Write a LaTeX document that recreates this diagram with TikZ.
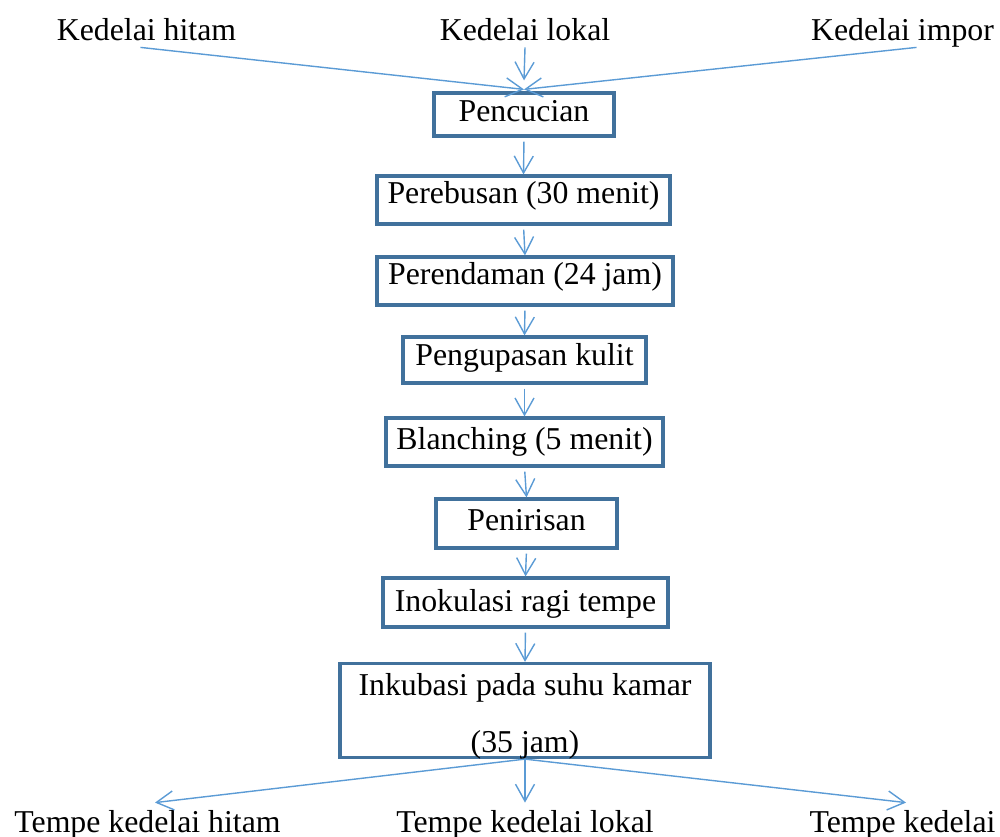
\documentclass[tikz,border=0pt]{standalone}
\usepackage{fontspec}
\setmainfont{Liberation Serif}
\usetikzlibrary{arrows.meta}
\definecolor{boxblue}{HTML}{41719C}
\definecolor{arrblue}{HTML}{5B9BD5}
\newcommand\fsz{\fontsize{15.9pt}{19pt}\selectfont}
\begin{document}
\begin{tikzpicture}[x=0.5pt,y=-0.5pt,
  stepbox/.style={draw=boxblue, line width=1.6pt, inner sep=0pt, font=\fsz,
    text height=8pt, text depth=3pt},
  lbl/.style={inner sep=0pt, anchor=base, font=\fsz, text height=11pt, text depth=3.5pt},
  arr/.style={draw=arrblue, line width=0.7pt, -{Straight Barb[length=8.5pt,width=9.5pt]}}]
\useasboundingbox (0,0) rectangle (1000,836);
% inputs
\node[lbl] (kh) at (146.5,40) {Kedelai hitam};
\node[lbl] (kl) at (525,40) {Kedelai lokal};
\node[lbl] (ki) at (902.5,40) {Kedelai impor};
% steps
\node[stepbox, text height=10pt, minimum width=90pt, minimum height=21.5pt] (pen) at (524,114.5) {Pencucian};
\node[stepbox, text height=6pt, minimum width=146.5pt, minimum height=24pt] (reb) at (523.5,200) {Perebusan (30 menit)};
\node[stepbox, text height=6pt, minimum width=148pt, minimum height=24pt] (ren) at (525,281) {Perendaman (24 jam)};
\node[stepbox, text height=8pt, minimum width=121.5pt, minimum height=23pt] (kup) at (524.5,360) {Pengupasan kulit};
\node[stepbox, text height=10pt, minimum width=138.5pt, minimum height=24pt] (bla) at (524.5,442) {Blanching (5 menit)};
\node[stepbox, text height=9.5pt, minimum width=90.5pt, minimum height=24.5pt] (nir) at (526.5,523.5) {Penirisan};
\node[stepbox, text height=12pt, minimum width=142.5pt, minimum height=24.5pt] (ino) at (525.5,602.5) {Inokulasi ragi tempe};
\node[stepbox, minimum width=185pt, minimum height=47pt] (ink) at (525,710.5) {};
\node[lbl] (inka) at (525,695) {Inkubasi pada suhu kamar};
\node[lbl] (inkb) at (525,752) {(35 jam)};
% outputs
\node[lbl] (th) at (147.5,832) {Tempe kedelai hitam};
\node[lbl] (tl) at (525,832) {Tempe kedelai lokal};
\node[lbl] (tk) at (902.5,832) {Tempe kedelai};
% connectors
\draw[arr] ([xshift=-3pt]kh.south) -- ([yshift=1pt]pen.north);
\draw[arr] (kl.south) -- ([yshift=5.5pt]pen.north);
\draw[arr] ([xshift=7pt]ki.south) -- ([yshift=1pt]pen.north);
\draw[arr, shorten <=2pt] (pen.south) -- (reb.north);
\draw[arr, shorten <=2pt] (reb.south) -- (ren.north);
\draw[arr, shorten <=2pt] (ren.south) -- (kup.north);
\draw[arr, shorten <=2pt] (kup.south) -- (bla.north);
\draw[arr, shorten <=2pt] (bla.south) -- (nir.north);
\draw[arr, shorten <=2pt] (nir.south) -- (ino.north);
\draw[arr, shorten <=2pt] (ino.south) -- (ink.north);
\draw[arr] (ink.south) -- ([xshift=3.75pt,yshift=3.5pt]th.north);
\draw[arr] (ink.south) -- ([yshift=3.5pt]tl.north);
\draw[arr] (ink.south) -- ([xshift=1.75pt,yshift=3.5pt]tk.north);
\end{tikzpicture}
\end{document}
